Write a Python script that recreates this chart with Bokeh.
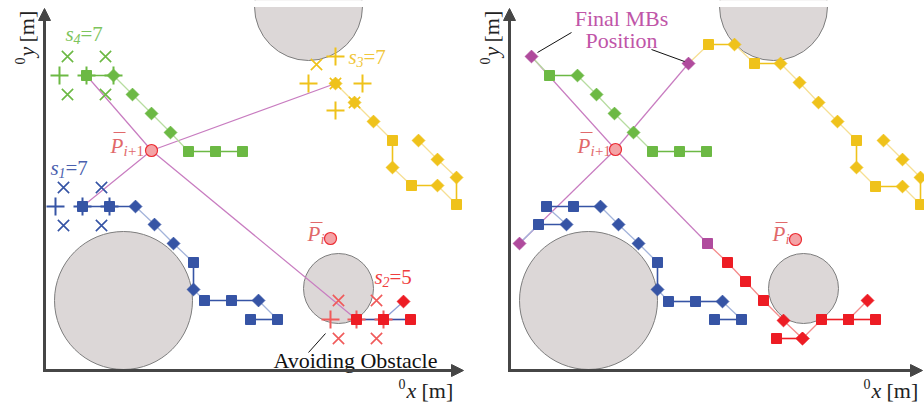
import math
from bokeh.plotting import figure
from bokeh.layouts import row
from bokeh.models import Range1d, Arrow, NormalHead
from bokeh.core.properties import value
from bokeh.embed import file_html
from bokeh.resources import INLINE

SERIF = "Liberation Serif"
TEXT_SHIFT = 7  # compensates the renderer's baseline placement

# ---------------- colours ----------------
GREEN, GREEN_L, GREEN_T = "#6cb944", "#b7dca0", "#7dc45c"
YELLOW, YELLOW_L, YELLOW_T = "#efc21b", "#f6df93", "#f0c63a"
BLUE, BLUE_L, BLUE_T = "#3654a5", "#a3b3da", "#4a5fae"
RED, RED_L, RED_T = "#ed1c24", "#f48a8a", "#ef3e3e"
MAG, MAG_L, MAG_T = "#b04b9d", "#c87cc0", "#c055a8"
P_FILL, P_LINE, P_T = "#f4a3a6", "#ec2d33", "#e1696b"
OBS_FILL, OBS_LINE = "#dcd7d7", "#7d7d7d"
AX = "#464646"

# ---------------- data (metres drawn 1:1 on the scheme) ----------------
obs_x = [79, 294, 264]
obs_y = [70, 82, 364]
obs_r = [69, 35, 54]
obs_clip_top = 363.5

P_next = (107, 220)
P_cur = (286, 132)

# left panel: current step
green_L_x = [42, 69, 88, 107, 126, 144, 171, 198]
green_L_y = [295, 295, 276, 257, 238, 219, 219, 219]
green_L_m = ["s", "d", "d", "d", "d", "s", "s", "s"]
yellow_L_x = [291, 310, 329, 348, 348, 367, 393, 412, 412, 393, 374]
yellow_L_y = [287, 268, 249, 230, 203, 185, 185, 166, 193, 211, 230]
yellow_L_m = ["d", "d", "d", "s", "d", "s", "d", "s", "d", "d", "d"]
blue_L_x = [38, 65, 91, 110, 129, 149, 149, 160, 187, 214, 233, 206]
blue_L_y = [164, 164, 164, 146, 127, 108, 81, 70, 70, 70, 51, 51]
blue_L_m = ["s", "s", "d", "d", "d", "s", "d", "s", "s", "d", "s", "s"]
red_L_x = [312, 339, 366]
red_L_y = [51, 51, 51]
red_L_m = ["s", "s", "s"]
red_Lb_x = [339, 359]
red_Lb_y = [51, 69]
red_Lb_m = ["s", "d"]

plus_green = ([15, 42, 69], [295, 295, 295])
plus_yellow = ([264, 291, 318, 291], [287, 314, 287, 260])
plus_blue = ([11, 38, 65], [164, 164, 164])
plus_red = ([286, 312, 339], [51, 51, 51])
x_green = ([23, 61, 23, 61], [314, 314, 276, 276])
x_yellow = ([272, 291, 310], [306, 287, 268])
x_blue = ([19, 57, 19, 57], [183, 183, 145, 145])
x_red = ([294, 332, 294, 332], [70, 70, 32, 32])

# right panel: final positions
green_R_x = [22, 40, 68, 87, 105, 124, 143, 170, 197]
green_R_y = [314, 295, 295, 276, 257, 238, 219, 219, 219]
green_R_m = ["m", "s", "d", "d", "d", "d", "s", "s", "s"]
yellow_R_x = [179, 199, 225, 245, 271, 290, 309, 328, 347, 347, 366, 393, 411, 411, 393, 374]
yellow_R_y = [307, 326, 326, 307, 307, 288, 268, 249, 230, 203, 184, 184, 166, 193, 211, 230]
yellow_R_m = ["m", "s", "d", "s", "d", "d", "d", "d", "s", "d", "s", "d", "s", "d", "d", "d"]
blue_R_x = [10, 29, 57, 37, 64, 91, 109, 129, 148, 148, 159, 186, 213, 232, 205]
blue_R_y = [127, 146, 146, 164, 164, 164, 146, 127, 108, 81, 69, 69, 69, 51, 51]
blue_R_m = ["m", "s", "d", "s", "s", "d", "d", "d", "s", "d", "s", "s", "d", "s", "s"]
red_R_x = [198, 218, 236, 254, 274, 293, 312, 339, 366]
red_R_y = [127, 108, 89, 70, 50, 32, 51, 51, 51]
red_R_m = ["ms", "s", "s", "s", "d", "d", "s", "s", "s"]
red_Rb1_x, red_Rb1_y, red_Rb1_m = [267, 293], [32, 32], ["s", "d"]
red_Rb2_x, red_Rb2_y, red_Rb2_m = [339, 358], [51, 70], ["s", "d"]

s_labels_L = [("4", "7", 21, 330, GREEN_T), ("1", "7", 6, 196, BLUE_T),
              ("3", "7", 304, 307, YELLOW_T), ("2", "5", 330, 87, RED_T)]


def base_fig(w, x0, x1):
    p = figure(width=w, height=405, x_range=Range1d(x0, x1), y_range=Range1d(-35, 370),
               output_backend="svg", toolbar_location=None, min_border=0,
               x_axis_location=None, y_axis_location=None, outline_line_color=None)
    p.grid.visible = False
    return p


def txt(p, x, y, s, size, color, style="normal", align="left", angle=0.0):
    if angle:
        x = x - 4
    else:
        y = y + TEXT_SHIFT
    p.text(x=[x], y=[y], text=[s], text_font=value(SERIF), text_font_size=f"{size}px",
           text_font_style=style, text_color=color, text_align=align,
           text_baseline="alphabetic", angle=angle)


def axes(p, xtip, ytip):
    p.add_layout(Arrow(end=NormalHead(size=12, fill_color=AX, line_color=AX),
                       x_start=-1.5, y_start=0, x_end=xtip, y_end=0,
                       line_color=AX, line_width=3))
    p.add_layout(Arrow(end=NormalHead(size=12, fill_color=AX, line_color=AX),
                       x_start=0, y_start=-1.5, x_end=0, y_end=ytip,
                       line_color=AX, line_width=3))
    # axis labels
    txt(p, 354, -20, "0", 14, "#222222")
    txt(p, 362, -27, "x", 22, "#222222", "italic")
    txt(p, 377, -27, "[m]", 22, "#222222")
    a = math.pi / 2
    txt(p, -21, 306, "0", 14, "#222222", angle=a)
    txt(p, -14, 314, "y", 22, "#222222", "italic", angle=a)
    txt(p, -14, 328, "[m]", 22, "#222222", angle=a)


def obstacles(p):
    p.circle(obs_x, obs_y, radius=obs_r, fill_color=OBS_FILL, line_color=OBS_LINE, line_width=1)
    # the top obstacle is cut by the scene border
    p.quad(left=[obs_x[2] - obs_r[2] - 3], right=[obs_x[2] + obs_r[2] + 3],
           bottom=[obs_clip_top], top=[380], fill_color="white", line_color=None)


def segs(p, xs, ys, dark, light):
    ox0, oy0, ox1, oy1 = [], [], [], []
    lx0, ly0, lx1, ly1 = [], [], [], []
    for i in range(len(xs) - 1):
        dx, dy = xs[i + 1] - xs[i], ys[i + 1] - ys[i]
        if abs(dx) < 4 or abs(dy) < 4:
            ox0.append(xs[i]); oy0.append(ys[i]); ox1.append(xs[i + 1]); oy1.append(ys[i + 1])
        else:
            lx0.append(xs[i]); ly0.append(ys[i]); lx1.append(xs[i + 1]); ly1.append(ys[i + 1])
    if lx0:
        p.segment(lx0, ly0, lx1, ly1, line_color=light, line_width=1.3)
    if ox0:
        p.segment(ox0, oy0, ox1, oy1, line_color=dark, line_width=1.6)


def marks(p, xs, ys, ms, col):
    def pick(code):
        idx = [i for i, m in enumerate(ms) if m == code]
        return [xs[i] for i in idx], [ys[i] for i in idx]
    x, y = pick("s")
    p.scatter(x, y, marker="square", size=10, fill_color=col, line_color=col)
    x, y = pick("d")
    p.scatter(x, y, marker="square", size=9, angle=math.pi / 4, fill_color=col, line_color=col)
    x, y = pick("m")
    p.scatter(x, y, marker="square", size=9, angle=math.pi / 4, fill_color=MAG, line_color=MAG)
    x, y = pick("ms")
    p.scatter(x, y, marker="square", size=10, fill_color=MAG, line_color=MAG)


def mag_lines(p, pc, ends_x, ends_y):
    p.segment([pc[0]] * len(ends_x), [pc[1]] * len(ends_y), ends_x, ends_y,
              line_color=MAG_L, line_width=1.2)


def p_labels(p, ux):
    # P bar i+1
    txt(p, ux, 218, "P", 21, P_T, "italic")
    p.segment([ux + 3], [238], [ux + 15], [238], line_color=P_T, line_width=1.2)
    txt(p, ux + 13, 213, "i", 15, P_T, "italic")
    txt(p, ux + 17.5, 213, "+1", 15, P_T)
    # P bar i
    txt(p, 263, 130, "P", 21, P_T, "italic")
    p.segment([266], [148], [278], [148], line_color=P_T, line_width=1.2)
    txt(p, 276, 125, "i", 15, P_T, "italic")


# ---------------- left panel ----------------
pL = base_fig(466, -44, 422)
obstacles(pL)
mag_lines(pL, P_next, [green_L_x[0], yellow_L_x[0], blue_L_x[0], red_L_x[0]],
          [green_L_y[0], yellow_L_y[0], blue_L_y[0], red_L_y[0]])
segs(pL, green_L_x, green_L_y, GREEN, GREEN_L)
segs(pL, yellow_L_x, yellow_L_y, YELLOW, YELLOW_L)
segs(pL, blue_L_x, blue_L_y, BLUE, BLUE_L)
segs(pL, red_L_x, red_L_y, "#3a4aa0", "#8f9fd6")
segs(pL, red_Lb_x, red_Lb_y, "#3a4aa0", "#8f9fd6")
for (cx, cy), col in [(plus_green, GREEN), (plus_yellow, YELLOW), (plus_blue, BLUE), (plus_red, "#f05a5a")]:
    pL.scatter(cx, cy, marker="cross", size=18, line_color=col, line_width=2)
for (cx, cy), col in [(x_green, GREEN), (x_yellow, YELLOW), (x_blue, BLUE), (x_red, "#f05a5a")]:
    pL.scatter(cx, cy, marker="x", size=16, line_color=col, line_width=1.6)
marks(pL, green_L_x, green_L_y, green_L_m, GREEN)
marks(pL, yellow_L_x, yellow_L_y, yellow_L_m, YELLOW)
marks(pL, blue_L_x, blue_L_y, blue_L_m, BLUE)
marks(pL, red_L_x, red_L_y, red_L_m, RED)
marks(pL, red_Lb_x, red_Lb_y, red_Lb_m, RED)
pL.scatter([P_next[0], P_cur[0]], [P_next[1], P_cur[1]], marker="circle", size=12,
           fill_color=P_FILL, line_color=P_LINE, line_width=1.2)
p_labels(pL, 66)
for k, n, u, v, col in s_labels_L:
    txt(pL, u, v, "s", 21, col, "italic")
    txt(pL, u + 8, v - 5, k, 14, col, "italic")
    txt(pL, u + 15, v, "=" + n, 21, col)
txt(pL, 229, 3, "Avoiding Obstacle", 22, "#111111")
pL.segment([264], [18], [281], [37], line_color="#111111", line_width=1)
axes(pL, 419, 362)

# ---------------- right panel ----------------
P_next_R = (106, 221)
pR = base_fig(458, -43, 415)
obstacles(pR)
mag_lines(pR, P_next_R, [green_R_x[0], yellow_R_x[0], blue_R_x[0], red_R_x[0]],
          [green_R_y[0], yellow_R_y[0], blue_R_y[0], red_R_y[0]])
segs(pR, green_R_x, green_R_y, GREEN, GREEN_L)
segs(pR, yellow_R_x, yellow_R_y, YELLOW, YELLOW_L)
segs(pR, blue_R_x, blue_R_y, BLUE, BLUE_L)
segs(pR, red_R_x, red_R_y, RED, RED_L)
segs(pR, red_Rb1_x, red_Rb1_y, RED, RED_L)
segs(pR, red_Rb2_x, red_Rb2_y, RED, RED_L)
marks(pR, green_R_x, green_R_y, green_R_m, GREEN)
marks(pR, yellow_R_x, yellow_R_y, yellow_R_m, YELLOW)
marks(pR, blue_R_x, blue_R_y, blue_R_m, BLUE)
marks(pR, red_R_x, red_R_y, red_R_m, RED)
marks(pR, red_Rb1_x, red_Rb1_y, red_Rb1_m, RED)
marks(pR, red_Rb2_x, red_Rb2_y, red_Rb2_m, RED)
pR.scatter([P_next_R[0], P_cur[0]], [P_next_R[1], P_cur[1] - 1], marker="circle", size=12,
           fill_color=P_FILL, line_color=P_LINE, line_width=1.2)
p_labels(pR, 68)
txt(pR, 112, 345, "Final MBs", 22, MAG_T, align="center")
txt(pR, 112, 323, "Position", 22, MAG_T, align="center")
pR.segment([28, 142], [318, 321], [62, 175], [338, 309], line_color="#111111", line_width=1)
axes(pR, 413, 362)

layout = row(pL, pR)
open("out.html", "w").write(file_html(layout, INLINE))
